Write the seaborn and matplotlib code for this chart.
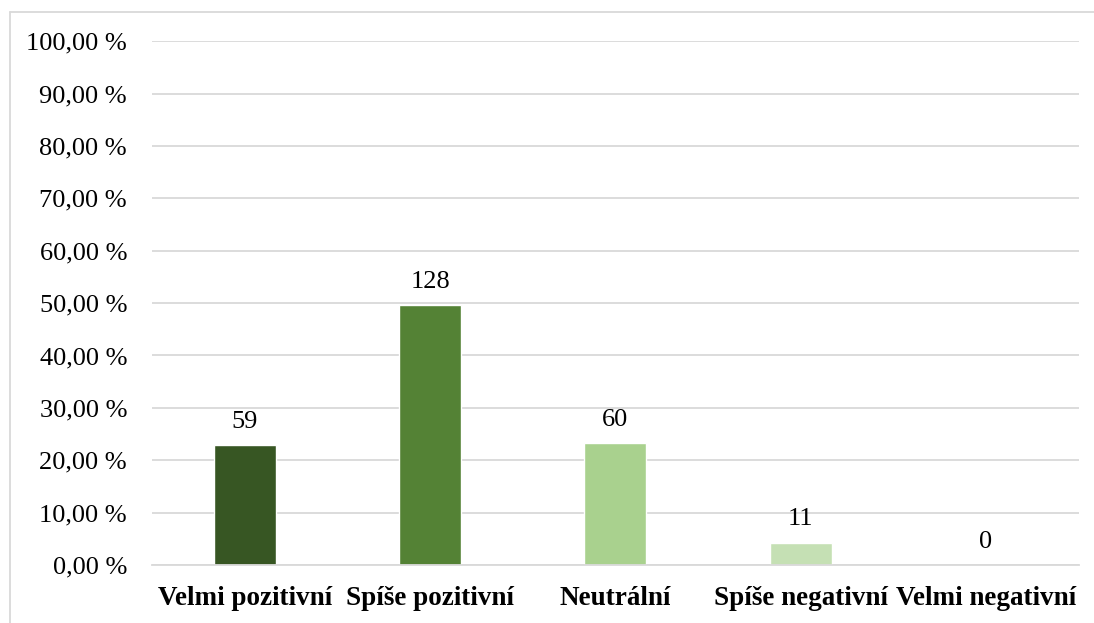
import matplotlib
matplotlib.use("Agg")
import matplotlib.pyplot as plt
from matplotlib.lines import Line2D
from matplotlib.ticker import FuncFormatter
import seaborn as sns
import pandas as pd

# Data
categories = ["Velmi pozitivní", "Spíše pozitivní", "Neutrální", "Spíše negativní", "Velmi negativní"]
counts = [59, 128, 60, 11, 0]
colors = ["#375623", "#548235", "#A9D18E", "#C5E0B4", "#E2F0D9"]
y_ticks = [0, 10, 20, 30, 40, 50, 60, 70, 80, 90, 100]

total = sum(counts)
df = pd.DataFrame({
    "category": categories,
    "count": counts,
    "pct": [c / total * 100 for c in counts],
})

sns.set_theme(style="white")
plt.rcParams["font.family"] = ["Liberation Serif", "DejaVu Serif"]

fig = plt.figure(figsize=(10.94, 6.23), dpi=100)
ax = fig.add_axes([0.139, 0.093, 0.847, 0.841])

sns.barplot(data=df, x="category", y="pct", hue="category", palette=colors,
            width=0.334, legend=False, ax=ax, saturation=1)

for container, n in zip(ax.containers, counts):
    ax.bar_label(container, labels=[str(n)], padding=9, fontsize=19, color="#000000")

ax.set_ylim(0, 100)
ax.set_yticks(y_ticks)
ax.yaxis.set_major_formatter(FuncFormatter(lambda v, _: f"{v:.2f}".replace(".", ",") + " %"))
ax.yaxis.grid(True, color="#D9D9D9", linewidth=1.3)
ax.set_axisbelow(True)
ax.tick_params(axis="y", length=0, pad=18, labelsize=19, labelcolor="#000000")
ax.tick_params(axis="x", length=0, pad=15, labelsize=19.5, labelcolor="#000000")
for lbl in ax.get_xticklabels():
    lbl.set_fontweight("bold")
ax.set_xlabel("")
ax.set_ylabel("")

for side in ["top", "right", "left"]:
    ax.spines[side].set_visible(False)
ax.spines["bottom"].set_color("#D9D9D9")
ax.spines["bottom"].set_linewidth(1.3)

# chart area border (only top and left are inside the picture)
x0 = 9.5 / 1094
y0 = 1 - 11.5 / 623
fig.lines.append(Line2D([x0, 1.0], [y0, y0], transform=fig.transFigure, color="#D9D9D9", linewidth=1.3))
fig.lines.append(Line2D([x0, x0], [0.0, y0], transform=fig.transFigure, color="#D9D9D9", linewidth=1.3))

fig.savefig("out.png", dpi=100, facecolor="white")
